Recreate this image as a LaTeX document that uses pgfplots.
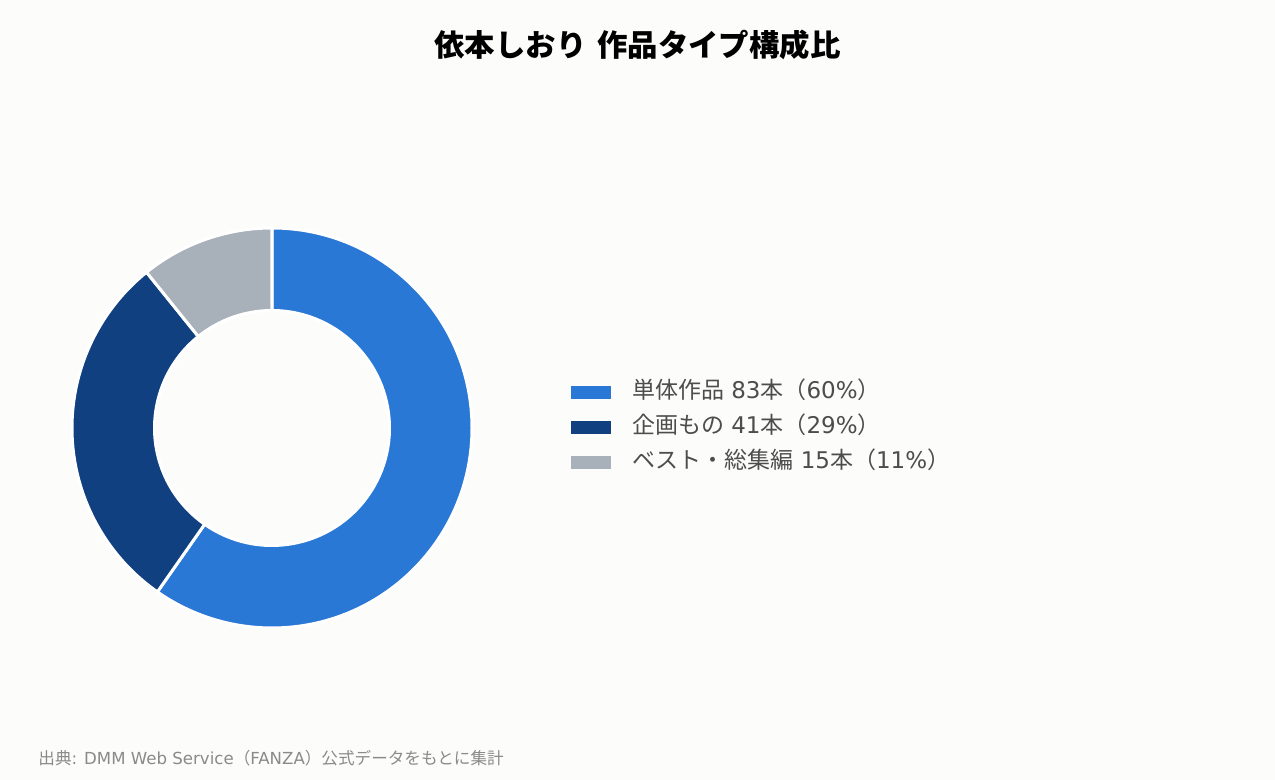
\documentclass[border=0pt]{standalone}
\usepackage{fontspec}
\usepackage{pgfplots}
\usepackage{pgfplotstable}
\pgfplotsset{compat=1.18}
\setmainfont{Noto Sans CJK JP}
\newfontfamily\lat{DejaVu Sans}

\definecolor{bg}{HTML}{FCFCFB}
\definecolor{tanpin}{HTML}{2A78D6}
\definecolor{kikaku}{HTML}{10407F}
\definecolor{best}{HTML}{A8B0BA}
\definecolor{legtext}{HTML}{4D4D4D}
\definecolor{foot}{HTML}{8A8A8A}

% work types: count of titles
\pgfplotstableread{
value
83
41
15
}\types

\begin{document}
\begin{tikzpicture}
\pgfplotstablegetelem{0}{value}\of\types \let\va\pgfplotsretval
\pgfplotstablegetelem{1}{value}\of\types \let\vb\pgfplotsretval
\pgfplotstablegetelem{2}{value}\of\types \let\vc\pgfplotsretval
\pgfmathsetmacro\tot{\va+\vb+\vc}
\pgfmathsetmacro\aA{90}
\pgfmathsetmacro\aB{\aA-360*(\va/\tot)}
\pgfmathsetmacro\aC{\aB-360*(\vb/\tot)}
\pgfmathsetmacro\aD{\aC-360*(\vc/\tot)}
\def\Ro{100pt}
\def\Ri{58.75pt}
\begin{axis}[
  width=637.5pt, height=390pt, scale only axis,
  hide axis, clip=false,
  xmin=0, xmax=1275, ymin=0, ymax=780,
  legend cell align=left,
  legend image code/.code={\fill[#1, draw=none] (0pt,-3.25pt) rectangle (20pt,3.25pt);},
  legend style={draw=none, fill=none, at={(axis cs:571,352)}, anchor=west,
    inner sep=0pt, outer sep=0pt,
    font=\fontsize{11.5pt}{13.5pt}\selectfont, text=legtext,
    row sep=7.5pt, column sep=0pt,
    nodes={inner sep=0pt, outer sep=0pt, text height=8pt, text depth=2pt}},
  /tikz/every odd column/.append style={column sep=10.5pt},
]
\fill[bg] (axis cs:0,0) rectangle (axis cs:1275,780);
% donut wedges
\fill[tanpin, draw=white, line width=1.5pt]
  ([shift={(\aA:\Ro)}]axis cs:272,352) arc[start angle=\aA, end angle=\aB, radius=\Ro]
  -- ([shift={(\aB:\Ri)}]axis cs:272,352) arc[start angle=\aB, end angle=\aA, radius=\Ri] -- cycle;
\fill[kikaku, draw=white, line width=1.5pt]
  ([shift={(\aB:\Ro)}]axis cs:272,352) arc[start angle=\aB, end angle=\aC, radius=\Ro]
  -- ([shift={(\aC:\Ri)}]axis cs:272,352) arc[start angle=\aC, end angle=\aB, radius=\Ri] -- cycle;
\fill[best, draw=white, line width=1.5pt]
  ([shift={(\aC:\Ro)}]axis cs:272,352) arc[start angle=\aC, end angle=\aD, radius=\Ro]
  -- ([shift={(\aD:\Ri)}]axis cs:272,352) arc[start angle=\aD, end angle=\aC, radius=\Ri] -- cycle;

\addlegendimage{fill=tanpin}
\addlegendentry{単体作品{\lat\ 83}本（{\lat 60\%}）}
\addlegendimage{fill=kikaku}
\addlegendentry{企画もの{\lat\ 41}本（{\lat 29\%}）}
\addlegendimage{fill=best}
\addlegendentry{ベスト・総集編{\lat\ 15}本（{\lat 11\%}）}

\node[font=\fontsize{15.2pt}{18pt}\selectfont\bfseries, text=black]
  at (axis cs:637.5,735) {依本しおり\hspace{2pt} 作品タイプ構成比};
\node[anchor=west, font=\fontsize{8.3pt}{10pt}\selectfont, text=foot, inner sep=0pt]
  at (axis cs:38,22) {出典{\lat : DMM Web Service}（{\lat FANZA}）公式データをもとに集計};
\end{axis}
\end{tikzpicture}
\end{document}
